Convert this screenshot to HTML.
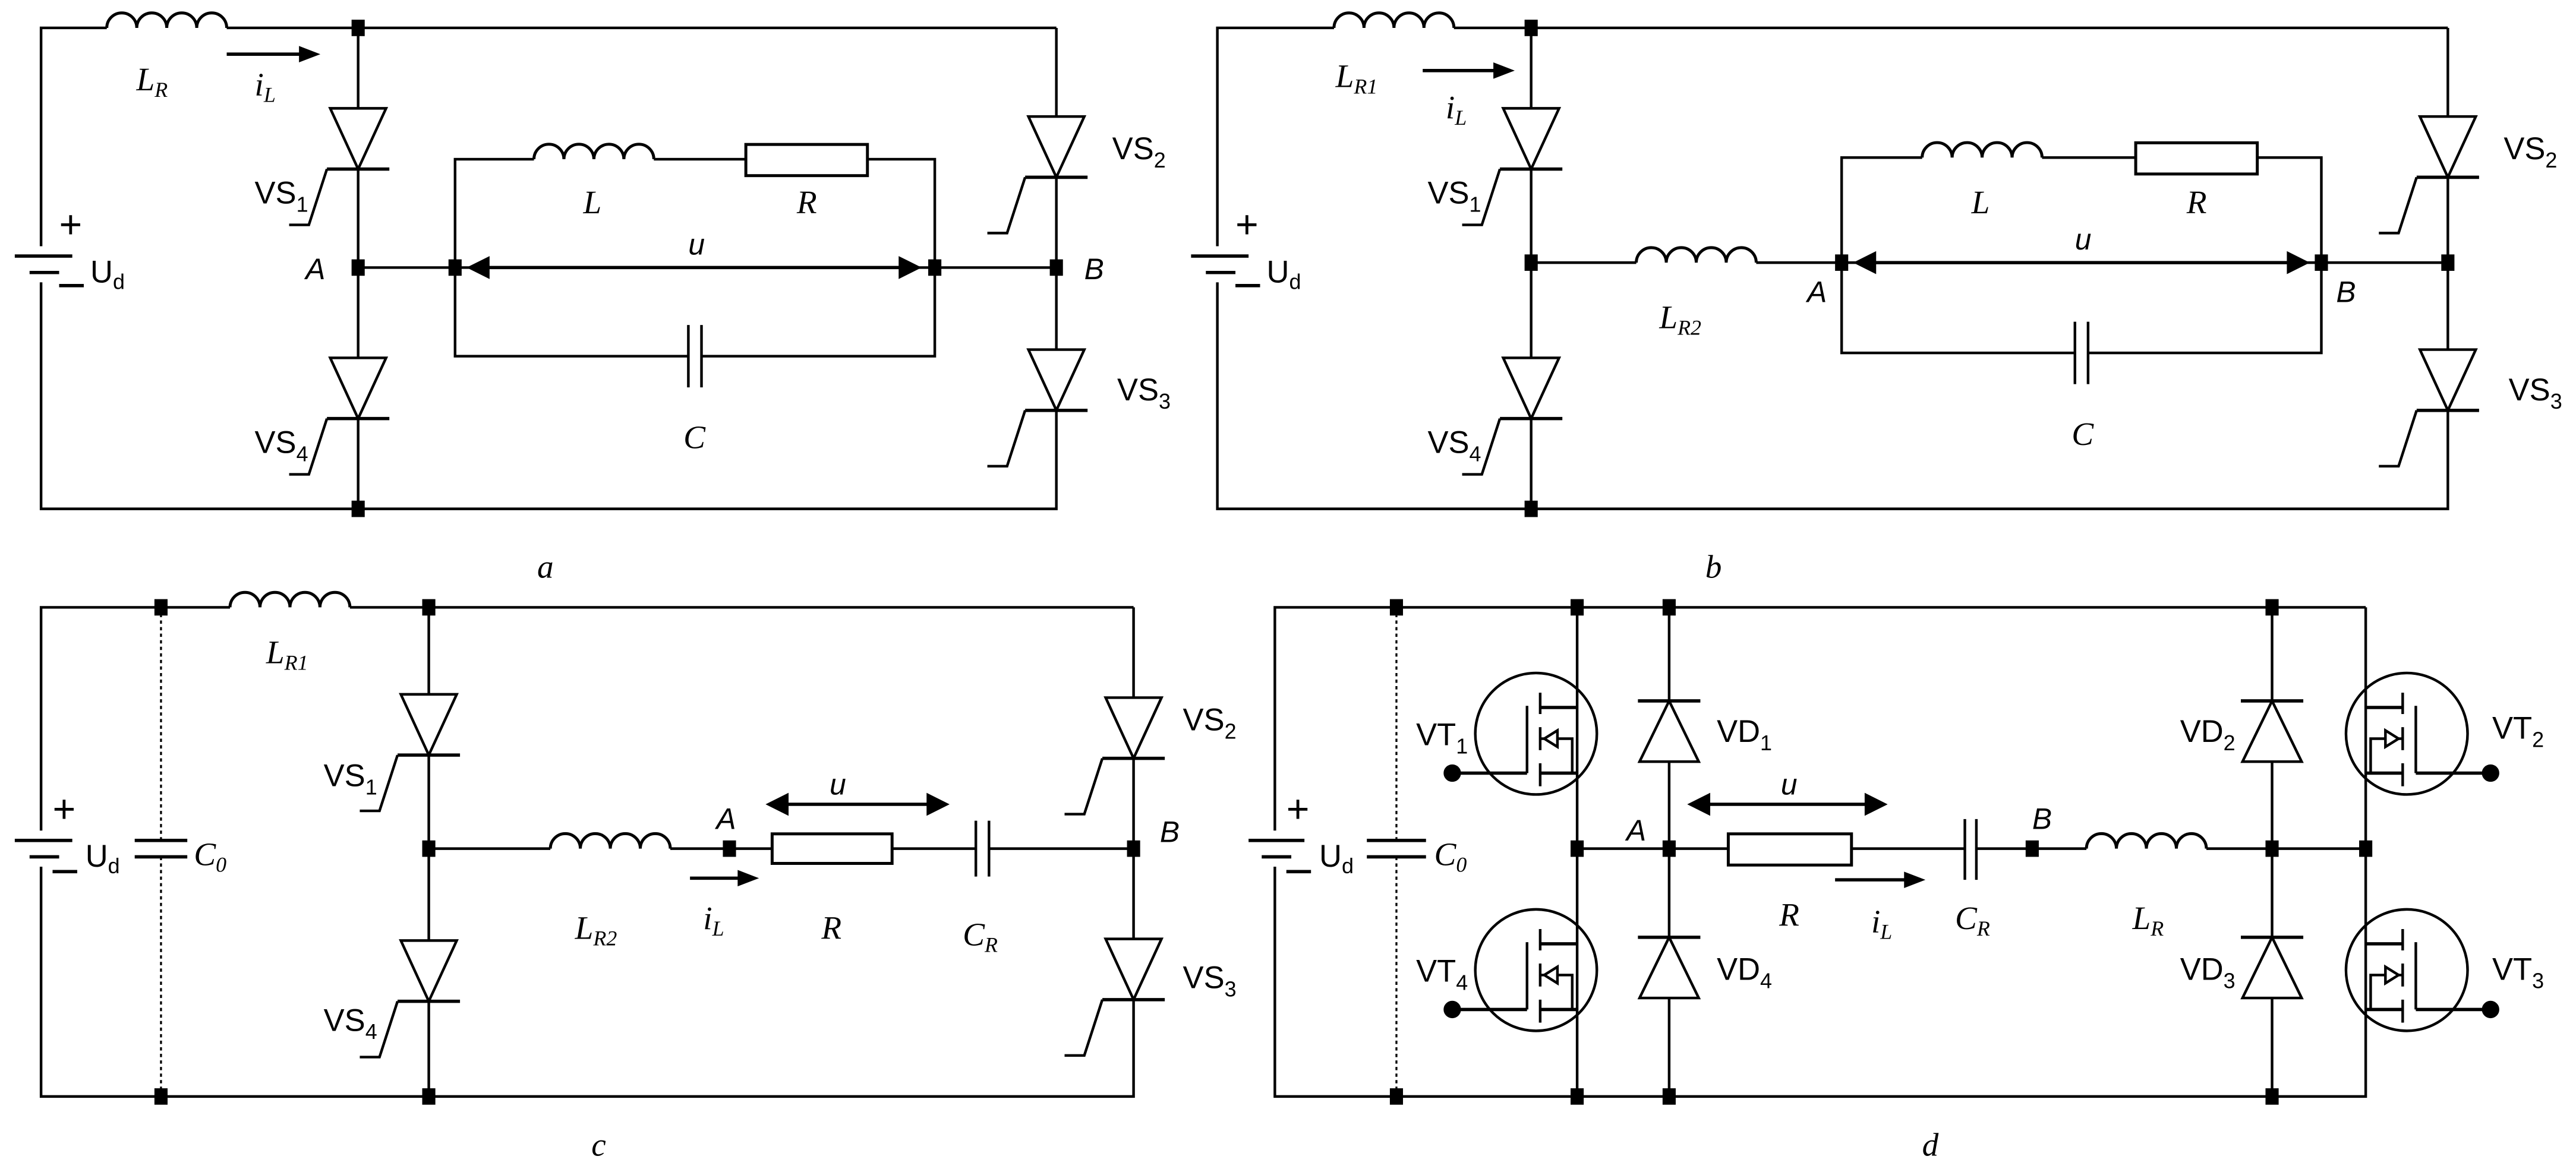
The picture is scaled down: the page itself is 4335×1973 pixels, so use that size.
<!DOCTYPE html>
<html><head><meta charset="utf-8"><style>
html,body{margin:0;padding:0;background:#fff;}
svg{display:block;}
.w{stroke:#000;stroke-width:1.6;fill:none;}
.t{font-family:"Liberation Sans",sans-serif;font-size:19px;fill:#000;}
.s{font-family:"Liberation Serif",serif;font-style:italic;font-size:20px;fill:#000;}
.i{font-family:"Liberation Sans",sans-serif;font-style:italic;font-size:18px;fill:#000;}
.sub{font-size:13px;}
</style></head><body>
<svg width="4335" height="1973" viewBox="0 0 1568 714" preserveAspectRatio="none" xmlns="http://www.w3.org/2000/svg">
<rect width="1568" height="714" fill="#fff"/>
<defs>
<g id="thy">
<polygon points="-17,-37 17,-37 0,0" fill="#fff" stroke="#000" stroke-width="1.6"/>
<line x1="-19" y1="0" x2="19" y2="0" stroke="#000" stroke-width="2"/>
<polyline points="-19,0 -30,34 -42,34" fill="none" stroke="#000" stroke-width="1.6"/>
</g>
<g id="ind">
<line x1="0" y1="0" x2="73" y2="0" stroke="#fff" stroke-width="4"/>
<path d="M0,0 a9.1,9.1 0 0 1 18.25,0 a9.1,9.1 0 0 1 18.25,0 a9.1,9.1 0 0 1 18.25,0 a9.1,9.1 0 0 1 18.25,0" fill="none" stroke="#000" stroke-width="1.8"/>
</g>
<g id="dio">
<polygon points="0,0 -18,37 18,37" fill="#fff" stroke="#000" stroke-width="1.6"/>
<line x1="-19" y1="0" x2="19" y2="0" stroke="#000" stroke-width="2"/>
</g>
<g id="mos" fill="none" stroke="#000" stroke-width="1.6">
<circle cx="-25" cy="0" r="37"/>
<line x1="-30.5" y1="-17" x2="-30.5" y2="24"/>
<line x1="-30.5" y1="24" x2="-76" y2="24" stroke-width="2"/>
<circle cx="-76" cy="24" r="4.5" fill="#000"/>
<line x1="-22.5" y1="-25" x2="-22.5" y2="-12"/>
<line x1="-22.5" y1="-4" x2="-22.5" y2="10"/>
<line x1="-22.5" y1="18" x2="-22.5" y2="32"/>
<line x1="-22.5" y1="-16" x2="0" y2="-16" stroke-width="2"/>
<line x1="-22.5" y1="24" x2="0" y2="24" stroke-width="2"/>
<polyline points="-22.5,3 -3,3 -3,24"/>
<polygon points="-20,3 -12,-2 -12,8" fill="#fff"/>
</g>
<g id="nd"><rect x="-4" y="-5" width="8" height="10" fill="#000"/></g>
</defs>

<!-- ===== Panel a ===== -->
<g class="w">
<polyline points="643,17 25,17 25,310 643,310 643,17"/>
<line x1="218" y1="17" x2="218" y2="310"/>
<line x1="218" y1="163" x2="643" y2="163"/>
<rect x="277" y="97" width="292" height="120"/>
<line x1="10" y1="156" x2="40" y2="156" stroke="#fff" stroke-width="0"/>
</g>
<!-- battery a -->
<rect x="20" y="150" width="10" height="22" fill="#fff"/>
<line x1="9" y1="156" x2="44" y2="156" stroke="#000" stroke-width="2"/>
<line x1="18" y1="166" x2="36" y2="166" stroke="#000" stroke-width="2"/>
<text class="t" x="36" y="145" style="font-size:24px">+</text>
<line x1="36" y1="174" x2="51" y2="174" stroke="#000" stroke-width="2"/>
<text class="t" x="55" y="172">U<tspan class="sub" dy="4">d</tspan></text>
<use href="#ind" x="65" y="17"/>
<text class="s" x="83" y="55">L<tspan class="sub" dy="4">R</tspan></text>
<line x1="138" y1="33" x2="183" y2="33" stroke="#000" stroke-width="2"/>
<polygon points="195,33 182,28 182,38" fill="#000"/>
<text class="s" x="155" y="58">i<tspan class="sub" dy="4">L</tspan></text>
<use href="#thy" x="218" y="103"/>
<use href="#thy" x="218" y="255"/>
<use href="#thy" x="643" y="108"/>
<use href="#thy" x="643" y="250"/>
<text class="t" x="155" y="124">VS<tspan class="sub" dy="5">1</tspan></text>
<text class="t" x="155" y="276">VS<tspan class="sub" dy="5">4</tspan></text>
<text class="t" x="677" y="97">VS<tspan class="sub" dy="5">2</tspan></text>
<text class="t" x="680" y="244">VS<tspan class="sub" dy="5">3</tspan></text>
<text class="i" x="186" y="170">A</text>
<text class="i" x="660" y="170">B</text>
<use href="#ind" x="325" y="97"/>
<rect x="454" y="88" width="74" height="19" fill="#fff" stroke="#000" stroke-width="1.8"/>
<text class="s" x="355" y="130">L</text>
<text class="s" x="485" y="130">R</text>
<rect x="419" y="196" width="8" height="42" fill="#fff"/>
<line x1="419" y1="198" x2="419" y2="236" stroke="#000" stroke-width="1.6"/>
<line x1="427" y1="198" x2="427" y2="236" stroke="#000" stroke-width="1.6"/>
<text class="s" x="416" y="273">C</text>
<line x1="295" y1="163" x2="550" y2="163" stroke="#000" stroke-width="2"/>
<polygon points="284,163 298,156 298,170" fill="#000"/>
<polygon points="561,163 547,156 547,170" fill="#000"/>
<text class="i" x="419" y="155">u</text>
<use href="#nd" x="218" y="17"/><use href="#nd" x="218" y="163"/><use href="#nd" x="218" y="310"/>
<use href="#nd" x="277" y="163"/><use href="#nd" x="569" y="163"/><use href="#nd" x="643" y="163"/>
<text class="s" x="327" y="352">a</text>

<!-- ===== Panel b ===== -->
<g class="w">
<polyline points="1490,17 741,17 741,310 1490,310 1490,17"/>
<line x1="932" y1="17" x2="932" y2="310"/>
<line x1="932" y1="160" x2="1490" y2="160"/>
<rect x="1121" y="96" width="292" height="119"/>
</g>
<rect x="736" y="150" width="10" height="22" fill="#fff"/>
<line x1="725" y1="156" x2="760" y2="156" stroke="#000" stroke-width="2"/>
<line x1="734" y1="166" x2="752" y2="166" stroke="#000" stroke-width="2"/>
<text class="t" x="752" y="145" style="font-size:24px">+</text>
<line x1="752" y1="174" x2="767" y2="174" stroke="#000" stroke-width="2"/>
<text class="t" x="771" y="172">U<tspan class="sub" dy="4">d</tspan></text>
<use href="#ind" x="812" y="17"/>
<text class="s" x="813" y="53">L<tspan class="sub" dy="4">R1</tspan></text>
<line x1="866" y1="43" x2="910" y2="43" stroke="#000" stroke-width="2"/>
<polygon points="922,43 909,38 909,48" fill="#000"/>
<text class="s" x="880" y="72">i<tspan class="sub" dy="4">L</tspan></text>
<use href="#thy" x="932" y="103"/>
<use href="#thy" x="932" y="255"/>
<use href="#thy" x="1490" y="108"/>
<use href="#thy" x="1490" y="250"/>
<text class="t" x="869" y="124">VS<tspan class="sub" dy="5">1</tspan></text>
<text class="t" x="869" y="276">VS<tspan class="sub" dy="5">4</tspan></text>
<text class="t" x="1524" y="97">VS<tspan class="sub" dy="5">2</tspan></text>
<text class="t" x="1527" y="244">VS<tspan class="sub" dy="5">3</tspan></text>
<use href="#ind" x="996" y="160"/>
<text class="s" x="1010" y="200">L<tspan class="sub" dy="4">R2</tspan></text>
<text class="i" x="1100" y="184">A</text>
<text class="i" x="1422" y="184">B</text>
<use href="#ind" x="1170" y="96"/>
<rect x="1300" y="87" width="74" height="19" fill="#fff" stroke="#000" stroke-width="1.8"/>
<text class="s" x="1200" y="130">L</text>
<text class="s" x="1331" y="130">R</text>
<rect x="1263" y="194" width="8" height="42" fill="#fff"/>
<line x1="1263" y1="196" x2="1263" y2="234" stroke="#000" stroke-width="1.6"/>
<line x1="1271" y1="196" x2="1271" y2="234" stroke="#000" stroke-width="1.6"/>
<text class="s" x="1261" y="271">C</text>
<line x1="1139" y1="160" x2="1395" y2="160" stroke="#000" stroke-width="2"/>
<polygon points="1128,160 1142,153 1142,167" fill="#000"/>
<polygon points="1406,160 1392,153 1392,167" fill="#000"/>
<text class="i" x="1263" y="152">u</text>
<use href="#nd" x="932" y="17"/><use href="#nd" x="932" y="160"/><use href="#nd" x="932" y="310"/>
<use href="#nd" x="1121" y="160"/><use href="#nd" x="1413" y="160"/><use href="#nd" x="1490" y="160"/>
<text class="s" x="1038" y="352">b</text>

<!-- ===== Panel c ===== -->
<g class="w">
<polyline points="690,370 25,370 25,668 690,668 690,370"/>
<line x1="261" y1="370" x2="261" y2="668"/>
<line x1="261" y1="517" x2="690" y2="517"/>
<line x1="98" y1="370" x2="98" y2="668" stroke-dasharray="2,2" stroke-width="1.2"/>
</g>
<rect x="20" y="506" width="10" height="22" fill="#fff"/>
<line x1="9" y1="512" x2="44" y2="512" stroke="#000" stroke-width="2"/>
<line x1="18" y1="522" x2="36" y2="522" stroke="#000" stroke-width="2"/>
<text class="t" x="32" y="501" style="font-size:24px">+</text>
<line x1="32" y1="531" x2="47" y2="531" stroke="#000" stroke-width="2"/>
<text class="t" x="52" y="528">U<tspan class="sub" dy="4">d</tspan></text>
<rect x="84" y="513" width="30" height="8" fill="#fff"/>
<line x1="82" y1="512" x2="114" y2="512" stroke="#000" stroke-width="2"/>
<line x1="82" y1="522" x2="114" y2="522" stroke="#000" stroke-width="2"/>
<text class="s" x="118" y="527">C<tspan class="sub" dy="4">0</tspan></text>
<use href="#ind" x="140" y="370"/>
<text class="s" x="162" y="404">L<tspan class="sub" dy="4">R1</tspan></text>
<use href="#thy" x="261" y="460"/>
<use href="#thy" x="261" y="610"/>
<use href="#thy" x="690" y="462"/>
<use href="#thy" x="690" y="609"/>
<text class="t" x="197" y="479">VS<tspan class="sub" dy="5">1</tspan></text>
<text class="t" x="197" y="628">VS<tspan class="sub" dy="5">4</tspan></text>
<text class="t" x="720" y="445">VS<tspan class="sub" dy="5">2</tspan></text>
<text class="t" x="720" y="602">VS<tspan class="sub" dy="5">3</tspan></text>
<use href="#ind" x="335" y="517"/>
<text class="s" x="350" y="572">L<tspan class="sub" dy="4">R2</tspan></text>
<text class="i" x="436" y="505">A</text>
<text class="i" x="706" y="513">B</text>
<rect x="470" y="508" width="73" height="18" fill="#fff" stroke="#000" stroke-width="1.8"/>
<text class="s" x="500" y="572">R</text>
<rect x="594" y="500" width="8" height="34" fill="#fff"/>
<line x1="594" y1="500" x2="594" y2="534" stroke="#000" stroke-width="1.6"/>
<line x1="602" y1="500" x2="602" y2="534" stroke="#000" stroke-width="1.6"/>
<text class="s" x="586" y="576">C<tspan class="sub" dy="4">R</tspan></text>
<line x1="420" y1="535" x2="450" y2="535" stroke="#000" stroke-width="2"/>
<polygon points="462,535 449,530 449,540" fill="#000"/>
<text class="s" x="428" y="566">i<tspan class="sub" dy="4">L</tspan></text>
<line x1="477" y1="490" x2="566" y2="490" stroke="#000" stroke-width="2"/>
<polygon points="466,490 480,483 480,497" fill="#000"/>
<polygon points="578,490 564,483 564,497" fill="#000"/>
<text class="i" x="505" y="484">u</text>
<use href="#nd" x="98" y="370"/><use href="#nd" x="98" y="668"/>
<use href="#nd" x="261" y="370"/><use href="#nd" x="261" y="517"/><use href="#nd" x="261" y="668"/>
<use href="#nd" x="444" y="517"/><use href="#nd" x="690" y="517"/>
<text class="s" x="360" y="704">c</text>

<!-- ===== Panel d ===== -->
<g class="w">
<polyline points="1440,370 776,370 776,668 1440,668 1440,370"/>
<line x1="960" y1="370" x2="960" y2="668"/>
<line x1="1016" y1="370" x2="1016" y2="668"/>
<line x1="1383" y1="370" x2="1383" y2="668"/>
<line x1="960" y1="517" x2="1440" y2="517"/>
<line x1="850" y1="370" x2="850" y2="668" stroke-dasharray="2,2" stroke-width="1.2"/>
</g>
<rect x="771" y="506" width="10" height="22" fill="#fff"/>
<line x1="760" y1="512" x2="794" y2="512" stroke="#000" stroke-width="2"/>
<line x1="768" y1="522" x2="786" y2="522" stroke="#000" stroke-width="2"/>
<text class="t" x="783" y="501" style="font-size:24px">+</text>
<line x1="783" y1="531" x2="798" y2="531" stroke="#000" stroke-width="2"/>
<text class="t" x="803" y="528">U<tspan class="sub" dy="4">d</tspan></text>
<rect x="834" y="513" width="32" height="8" fill="#fff"/>
<line x1="832" y1="512" x2="868" y2="512" stroke="#000" stroke-width="2"/>
<line x1="832" y1="522" x2="868" y2="522" stroke="#000" stroke-width="2"/>
<text class="s" x="873" y="527">C<tspan class="sub" dy="4">0</tspan></text>
<use href="#mos" x="960" y="447"/>
<use href="#mos" x="960" y="591"/>
<use href="#mos" transform="translate(1440,447) scale(-1,1)"/>
<use href="#mos" transform="translate(1440,591) scale(-1,1)"/>
<text class="t" x="862" y="454">VT<tspan class="sub" dy="5">1</tspan></text>
<text class="t" x="862" y="598">VT<tspan class="sub" dy="5">4</tspan></text>
<text class="t" x="1517" y="450">VT<tspan class="sub" dy="5">2</tspan></text>
<text class="t" x="1517" y="597">VT<tspan class="sub" dy="5">3</tspan></text>
<use href="#dio" x="1016" y="427"/>
<use href="#dio" x="1016" y="571"/>
<use href="#dio" x="1383" y="427"/>
<use href="#dio" x="1383" y="571"/>
<text class="t" x="1045" y="452">VD<tspan class="sub" dy="5">1</tspan></text>
<text class="t" x="1045" y="597">VD<tspan class="sub" dy="5">4</tspan></text>
<text class="t" x="1327" y="452">VD<tspan class="sub" dy="5">2</tspan></text>
<text class="t" x="1327" y="597">VD<tspan class="sub" dy="5">3</tspan></text>
<text class="i" x="990" y="512">A</text>
<text class="i" x="1237" y="505">B</text>
<rect x="1052" y="508" width="75" height="19" fill="#fff" stroke="#000" stroke-width="1.8"/>
<text class="s" x="1083" y="564">R</text>
<rect x="1196" y="499" width="7" height="37" fill="#fff"/>
<line x1="1196" y1="499" x2="1196" y2="536" stroke="#000" stroke-width="1.6"/>
<line x1="1203" y1="499" x2="1203" y2="536" stroke="#000" stroke-width="1.6"/>
<text class="s" x="1190" y="566">C<tspan class="sub" dy="4">R</tspan></text>
<use href="#ind" x="1270" y="517"/>
<text class="s" x="1298" y="566">L<tspan class="sub" dy="4">R</tspan></text>
<line x1="1117" y1="536" x2="1160" y2="536" stroke="#000" stroke-width="2"/>
<polygon points="1172,536 1159,531 1159,541" fill="#000"/>
<text class="s" x="1139" y="568">i<tspan class="sub" dy="4">L</tspan></text>
<line x1="1038" y1="490" x2="1138" y2="490" stroke="#000" stroke-width="2"/>
<polygon points="1027,490 1041,483 1041,497" fill="#000"/>
<polygon points="1149,490 1135,483 1135,497" fill="#000"/>
<text class="i" x="1084" y="484">u</text>
<use href="#nd" x="850" y="370"/><use href="#nd" x="960" y="370"/><use href="#nd" x="1016" y="370"/><use href="#nd" x="1383" y="370"/>
<use href="#nd" x="850" y="668"/><use href="#nd" x="960" y="668"/><use href="#nd" x="1016" y="668"/><use href="#nd" x="1383" y="668"/>
<use href="#nd" x="960" y="517"/><use href="#nd" x="1016" y="517"/><use href="#nd" x="1237" y="517"/><use href="#nd" x="1383" y="517"/><use href="#nd" x="1440" y="517"/>
<text class="s" x="1170" y="704">d</text>
</svg>
</body></html>
